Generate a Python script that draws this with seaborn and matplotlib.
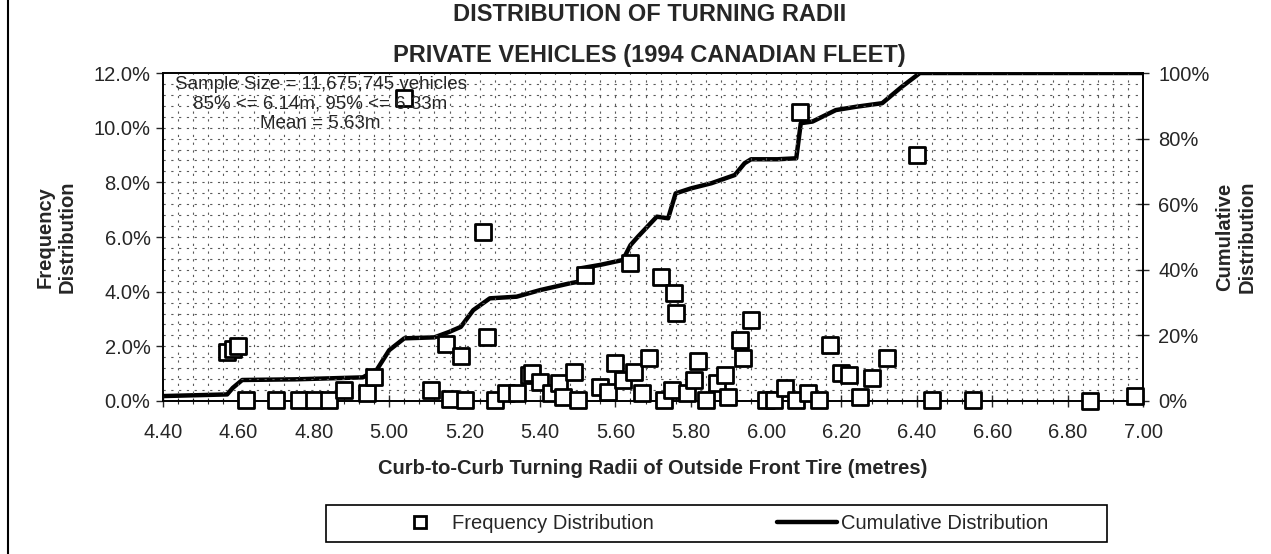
import numpy as np
import matplotlib
matplotlib.use("Agg")
import matplotlib.pyplot as plt
from matplotlib.lines import Line2D
from matplotlib.patches import Rectangle
from matplotlib.ticker import MultipleLocator, FuncFormatter
import seaborn as sns

# --------------------------
# Data
# --------------------------
freq_x = [4.57, 4.585, 4.60, 4.62, 4.70, 4.76, 4.80, 4.84, 4.88, 4.94, 4.96,
          5.04, 5.11, 5.15, 5.16, 5.19, 5.20, 5.25, 5.26, 5.28, 5.31, 5.34,
          5.37, 5.38, 5.40, 5.43, 5.45, 5.46, 5.49, 5.50, 5.52, 5.56, 5.58,
          5.60, 5.62, 5.64, 5.65, 5.67, 5.69, 5.72, 5.73, 5.75, 5.755, 5.76,
          5.79, 5.81, 5.82, 5.84, 5.87, 5.89, 5.90, 5.93, 5.94, 5.96, 6.00,
          6.02, 6.05, 6.08, 6.09, 6.11, 6.14, 6.17, 6.20, 6.22, 6.25, 6.28,
          6.32, 6.40, 6.44, 6.55, 6.86, 6.98]
freq_y = [1.80, 1.90, 2.00, 0.05, 0.05, 0.05, 0.05, 0.05, 0.40, 0.28, 0.89,
          11.07, 0.40, 2.08, 0.06, 1.65, 0.05, 6.17, 2.33, 0.04, 0.28, 0.28,
          0.95, 1.01, 0.68, 0.28, 0.67, 0.16, 1.07, 0.04, 4.61, 0.52, 0.34,
          1.38, 0.77, 5.04, 1.07, 0.28, 1.56, 4.55, 0.04, 0.40, 3.94, 3.23,
          0.28, 0.77, 1.48, 0.04, 0.65, 0.95, 0.16, 2.23, 1.56, 2.96, 0.04,
          0.04, 0.46, 0.04, 10.59, 0.28, 0.04, 2.05, 1.01, 0.95, 0.16, 0.83,
          1.56, 9.00, 0.02, 0.02, 0.00, 0.20]

cum_x = [4.40, 4.57, 4.585, 4.61, 4.75, 4.93, 4.967, 5.00, 5.04, 5.12, 5.16,
         5.19, 5.223, 5.267, 5.338, 5.40, 5.48, 5.505, 5.51, 5.56, 5.62, 5.64,
         5.66, 5.71, 5.74, 5.76, 5.80, 5.855, 5.917, 5.943, 5.96, 6.03, 6.08,
         6.092, 6.123, 6.185, 6.238, 6.308, 6.36, 6.408, 7.00]
cum_y = [1.5, 2.0, 4.0, 6.4, 6.6, 7.2, 9.5, 15.5, 19.1, 19.4, 21.1,
         22.6, 27.7, 31.3, 31.8, 33.8, 35.9, 36.4, 40.5, 41.5, 43.0, 47.5,
         50.1, 56.2, 55.7, 63.3, 64.8, 66.4, 68.9, 72.5, 73.7, 73.7, 74.0,
         84.7, 85.2, 88.7, 89.7, 90.8, 95.8, 100.0, 100.0]

x_ticks = np.arange(4.4, 7.01, 0.2)

# --------------------------
# Styling
# --------------------------
sns.set_style("white")
plt.rcParams['font.family'] = ['Liberation Sans', 'DejaVu Sans']
title_font = ['Liberation Sans Narrow', 'Liberation Sans', 'DejaVu Sans']
FS = 14.5

fig = plt.figure(figsize=(12.71, 5.54), dpi=100)
ax = fig.add_axes([0.1283, 0.2762, 0.7710, 0.5920])

# sparse dotted grid (5 divisions per major tick)
for xv in np.arange(4.44, 7.0, 0.04):
    ax.axvline(xv, color='0.35', lw=0.8, ls=(0, (2, 5)), zorder=0)
for yv in np.arange(0.4, 12.0, 0.4):
    ax.axhline(yv, color='0.35', lw=0.8, ls=(0, (2, 5)), zorder=0)

# frequency points
sns.scatterplot(x=freq_x, y=freq_y, ax=ax, marker='s', s=120,
                facecolor='white', edgecolor='black', linewidth=2, zorder=4,
                clip_on=False)

ax.set_xlim(4.4, 7.0)
ax.set_ylim(0, 12)
ax.set_xticks(x_ticks)
ax.xaxis.set_major_formatter(FuncFormatter(lambda v, p: f"{v:.2f}"))
ax.xaxis.set_minor_locator(MultipleLocator(0.04))
ax.yaxis.set_major_locator(MultipleLocator(2))
ax.yaxis.set_major_formatter(FuncFormatter(lambda v, p: f"{v:.1f}%"))
ax.tick_params(axis='x', which='major', direction='inout', length=8, width=1,
               labelsize=FS, pad=12, bottom=True)
ax.tick_params(axis='x', which='minor', direction='inout', length=4, width=0.8,
               bottom=True)
ax.tick_params(axis='y', direction='out', length=5, width=1, labelsize=FS,
               left=True, pad=4)
for sp in ax.spines.values():
    sp.set_color('black')
    sp.set_linewidth(1.2)

ax.set_xlabel("Curb-to-Curb Turning Radii of Outside Front Tire (metres)",
              fontsize=FS, fontweight='bold', labelpad=12)
ax.set_ylabel("Frequency\nDistribution", fontsize=FS, fontweight='bold',
              labelpad=12)

# cumulative curve on secondary axis
ax2 = ax.twinx()
sns.lineplot(x=cum_x, y=cum_y, ax=ax2, color='black', linewidth=3.2,
             sort=False, zorder=3)
ax2.set_ylim(0, 100)
ax2.yaxis.set_major_locator(MultipleLocator(20))
ax2.yaxis.set_major_formatter(FuncFormatter(lambda v, p: f"{v:.0f}%"))
ax2.tick_params(axis='y', direction='inout', length=8, width=1, labelsize=FS,
                right=True, pad=7)
ax2.set_ylabel("Cumulative\nDistribution", fontsize=FS, fontweight='bold',
               labelpad=4)
ax2.set_zorder(ax.get_zorder() - 1)
ax.patch.set_visible(False)
for sp in ax2.spines.values():
    sp.set_color('black')
    sp.set_linewidth(1.2)

# info text
ax.text(4.818, 11.88, "Sample Size = 11,675,745 vehicles\n"
        "85% <= 6.14m, 95% <= 6.33m\nMean = 5.63m",
        ha='center', va='top', fontsize=13.5, linespacing=1.2, zorder=5)

# title
fig.text(0.511, 0.973, "DISTRIBUTION OF TURNING RADII", ha='center', va='center',
         fontsize=17, fontweight='bold', family=title_font)
fig.text(0.511, 0.900, "PRIVATE VEHICLES (1994 CANADIAN FLEET)", ha='center',
         va='center', fontsize=17, fontweight='bold', family=title_font)

# legend: two frameless entries inside one drawn box
h_freq = Line2D([], [], marker='s', ls='none', markerfacecolor='white',
                markeredgecolor='black', markeredgewidth=2, markersize=8)
h_cum = Line2D([], [], color='black', lw=3.2)
leg_y = 1 - 523.5 / 554
leg1 = fig.legend([h_freq], ["Frequency Distribution"], loc='center left',
                  bbox_to_anchor=(410 / 1271, leg_y), frameon=False,
                  fontsize=FS, handlelength=1.0, handletextpad=1.1,
                  borderpad=0, borderaxespad=0)
leg2 = fig.legend([h_cum], ["Cumulative Distribution"], loc='center left',
                  bbox_to_anchor=(777 / 1271, leg_y), frameon=False,
                  fontsize=FS, handlelength=3.0, handletextpad=0.2,
                  borderpad=0, borderaxespad=0)
fig.add_artist(Rectangle((326 / 1271, 1 - 542 / 554), 781 / 1271, 37 / 554,
                         transform=fig.transFigure, fill=False,
                         edgecolor='black', lw=1.2))

# left page border
fig.add_artist(Line2D([0.0065, 0.0065], [0, 1], color='black', lw=1.5,
                      transform=fig.transFigure))

fig.savefig("out.png", dpi=100)
